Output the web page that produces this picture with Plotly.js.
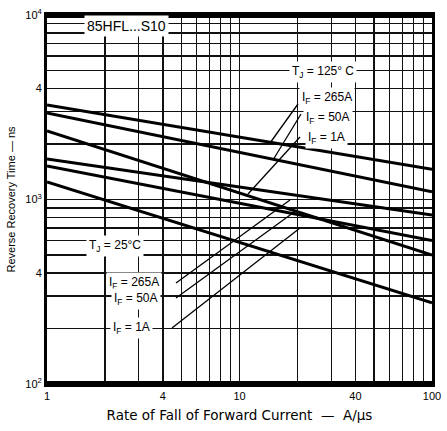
<!DOCTYPE html>
<html>
<head>
<meta charset="utf-8">
<script src="https://cdn.plot.ly/plotly-3.0.1.min.js"></script>
<style>html,body{margin:0;padding:0;background:#fff;}#chart{width:447px;height:431px;}</style>
</head>
<body>
<div id="chart"></div>
<script>
// di/dt (A/us) at the ends of each straight log-log curve
const rateEnds = [1, 100];
// reverse recovery time (ns)
const tj125_if265 = [3250, 1460];
const tj125_if50  = [2940, 1100];
const tj125_if1   = [2350, 500];
const tj25_if265  = [1660, 825];
const tj25_if50   = [1520, 600];
const tj25_if1    = [1245, 275];

const xTickVals = [1,2,3,4,5,6,7,8,9,10,20,30,40,50,60,70,80,90,100];
const xTickText = ['1','','','4','','','','','','10','','','40','','','','','','100'];
const yTickVals = [100,200,300,400,500,600,700,800,900,1000,2000,3000,4000,5000,6000,7000,8000,9000,10000];
const yTickText = ['10<sup>2</sup>','','','4','','','','','','10<sup>3</sup>','','','4','','','','','','10<sup>4</sup>'];

const series = [tj125_if265, tj125_if50, tj125_if1, tj25_if265, tj25_if50, tj25_if1];
const traces = series.map(v => ({
  x: rateEnds, y: v, mode: 'lines', type: 'scatter',
  line: {color: '#000', width: 3}, hoverinfo: 'skip', showlegend: false
}));

// pixel helpers for annotation placement (plot area 47..432 x 15..384)
const L = 47, R = 432, T = 15, B = 384;
const px = x => (x - L) / (R - L);
const py = y => (B - y) / (B - T);
const seg = (x0,y0,x1,y1) => ({type:'line', xref:'paper', yref:'paper',
  x0:px(x0), y0:py(y0), x1:px(x1), y1:py(y1), line:{color:'#000', width:1.3}});

const FAM = 'Liberation Sans, Arial, sans-serif';
const font = {family: FAM, size: 12, color: '#000'};
const lab = (text, x, y, size) => ({text, xref:'paper', yref:'paper', x:px(x), y:py(y),
  xanchor: 'left', yanchor:'middle', showarrow:false, bgcolor:'#fff',
  font: {family: FAM, size: size || 12, color: '#000'}, borderpad:2});

const layout = {
  width: 447, height: 431,
  margin: {l: L, r: 447 - R, t: T, b: 431 - B},
  paper_bgcolor: '#fff', plot_bgcolor: '#fff',
  showlegend: false,
  font: font,
  xaxis: {
    type: 'log', range: [0, 2], tickmode: 'array', tickvals: xTickVals, ticktext: xTickText,
    showgrid: true, gridcolor: '#111', gridwidth: 1.2,
    showline: true, linecolor: '#000', linewidth: 3, mirror: true,
    ticks: '', tickfont: {family: FAM, size: 11, color: '#000'},
    zeroline: false,
    title: {text: 'Rate of Fall of Forward Current  \u2014  A/\u00b5s', standoff: 10,
      font: {family: 'DejaVu Sans, sans-serif', size: 13.5, color: '#000'}}
  },
  yaxis: {
    type: 'log', range: [2, 4], tickmode: 'array', tickvals: yTickVals, ticktext: yTickText,
    showgrid: true, gridcolor: '#111', gridwidth: 1.6,
    showline: true, linecolor: '#000', linewidth: 3, mirror: true,
    ticks: '', tickfont: {family: FAM, size: 11, color: '#000'},
    zeroline: false,
    title: {text: 'Reverse Recovery Time \u2014 ns', standoff: 8,
      font: {family: FAM, size: 11, color: '#000'}}
  },
  shapes: [
    {type:'line', xref:'paper', yref:'paper', x0:0, x1:1, y0:1, y1:1, line:{color:'#000', width:6}},
    {type:'line', xref:'paper', yref:'paper', x0:0, x1:1, y0:0, y1:0, line:{color:'#000', width:6}},
    // pointers for 125 C labels
    seg(298,104,270,143),
    seg(301,114,273,160),
    seg(300,137,248,194),
    // pointers for 25 C labels
    seg(176,283,290,200),
    seg(176,298,297,210),
    seg(172,328,300,228)
  ],
  annotations: [
    lab('85HFL...S10', 84, 26, 14),
    lab('T<sub>J</sub> = 125\u00b0 C', 289, 72),
    lab('I<sub>F</sub> = 265A', 299, 98),
    lab('I<sub>F</sub> = 50A', 303, 118),
    lab('I<sub>F</sub> = 1A', 305, 138),
    lab('T<sub>J</sub> = 25\u00b0C', 86, 246),
    lab('I<sub>F</sub> = 265A', 106, 283),
    lab('I<sub>F</sub> = 50A', 111, 299),
    lab('I<sub>F</sub> = 1A', 110, 328)
  ]
};

Plotly.newPlot('chart', traces, layout, {staticPlot: true, displayModeBar: false});
</script>
</body>
</html>
